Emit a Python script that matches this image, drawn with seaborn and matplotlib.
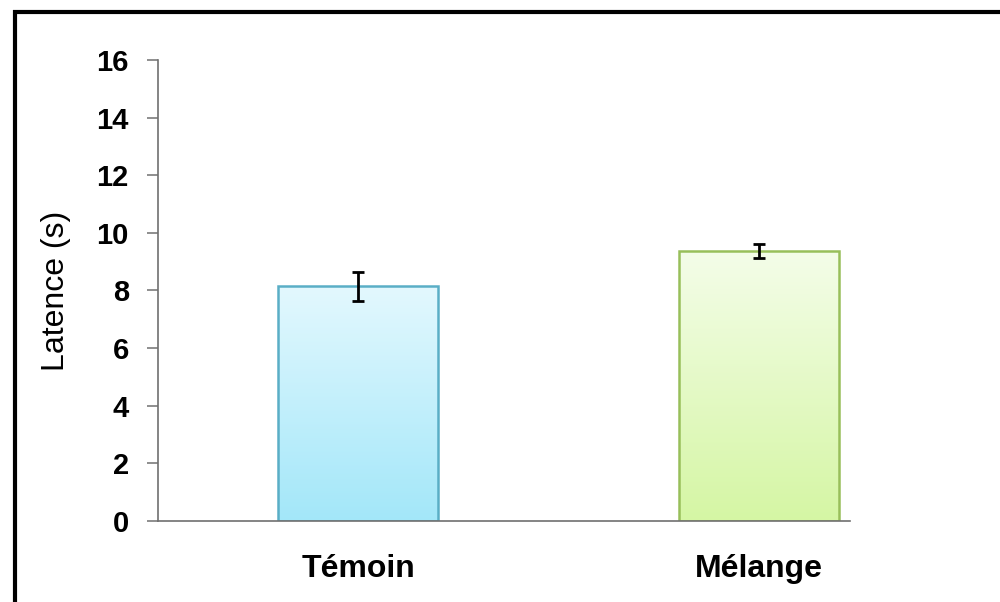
import numpy as np
import pandas as pd
import matplotlib
matplotlib.use("Agg")
import matplotlib.pyplot as plt
from matplotlib.colors import LinearSegmentedColormap
from matplotlib.lines import Line2D
import seaborn as sns

categories = ["Témoin", "Mélange"]
values = [8.15, 9.38]
errors = [0.5, 0.24]
top_colors = ["#e3f8fe", "#f4fde9"]
bottom_colors = ["#a3e7f9", "#d5f6a4"]
edge_colors = ["#5aaec6", "#98bf5a"]
yticks = [0, 2, 4, 6, 8, 10, 12, 14, 16]

sns.set_theme(style="white")
plt.rcParams["font.family"] = ["Liberation Sans", "DejaVu Sans"]
plt.rcParams["text.color"] = "black"
plt.rcParams["axes.labelcolor"] = "black"
plt.rcParams["xtick.color"] = "black"
plt.rcParams["ytick.color"] = "black"

df = pd.DataFrame({"cat": categories, "val": values})

fig = plt.figure(figsize=(10, 6.02), dpi=100)
ax = fig.add_axes([0.158, 0.1346, 0.692, 0.7658])

sns.barplot(data=df, x="cat", y="val", ax=ax, width=0.40, errorbar=None,
            color="white", saturation=1)

ax.set_ylim(0, 16)
ax.set_xlim(-0.499, 1.227)

for i, patch in enumerate(ax.patches):
    x0, y0 = patch.get_x(), patch.get_y()
    w, h = patch.get_width(), patch.get_height()
    cmap = LinearSegmentedColormap.from_list("g", [bottom_colors[i], top_colors[i]])
    grad = np.linspace(0, 1, 256).reshape(-1, 1)
    im = ax.imshow(grad, cmap=cmap, aspect="auto", origin="lower",
                   extent=[x0, x0 + w, y0, y0 + h], zorder=patch.get_zorder())
    im.set_clip_path(patch)
    patch.set_facecolor("none")
    patch.set_edgecolor(edge_colors[i])
    patch.set_linewidth(1.8)
    patch.set_zorder(patch.get_zorder() + 0.5)

ax.set_xlim(-0.499, 1.227)
ax.set_ylim(0, 16)

ax.errorbar(x=range(len(categories)), y=values, yerr=errors, fmt="none",
            ecolor="black", elinewidth=2.0, capsize=4.5, capthick=2.0, zorder=5)

ax.set_yticks(yticks)
ax.set_yticklabels([str(t) for t in yticks], fontsize=21, fontweight="bold",
                   color="black")
ax.set_xticks(range(len(categories)))
ax.set_xticklabels(categories, fontsize=23, fontweight="bold", color="black")
ax.set_xlabel("")
ax.set_ylabel("Latence (s)", fontsize=23, labelpad=18, color="black")

sns.despine(ax=ax, top=True, right=True)
for s in ["left", "bottom"]:
    ax.spines[s].set_color("#707070")
    ax.spines[s].set_linewidth(1.2)
ax.tick_params(axis="y", which="major", left=True, length=8, width=1.1,
               color="#707070", pad=13)
ax.tick_params(axis="x", which="major", bottom=False, pad=18)
ax.grid(False)

# figure frame lines (left and top)
fig.add_artist(Line2D([0.0145, 0.0145], [0.0, 0.9835], transform=fig.transFigure,
                      color="black", linewidth=3.0, solid_capstyle="butt"))
fig.add_artist(Line2D([0.0125, 1.0], [0.9803, 0.9803], transform=fig.transFigure,
                      color="black", linewidth=3.0, solid_capstyle="butt"))

fig.savefig("out.png", dpi=100)
